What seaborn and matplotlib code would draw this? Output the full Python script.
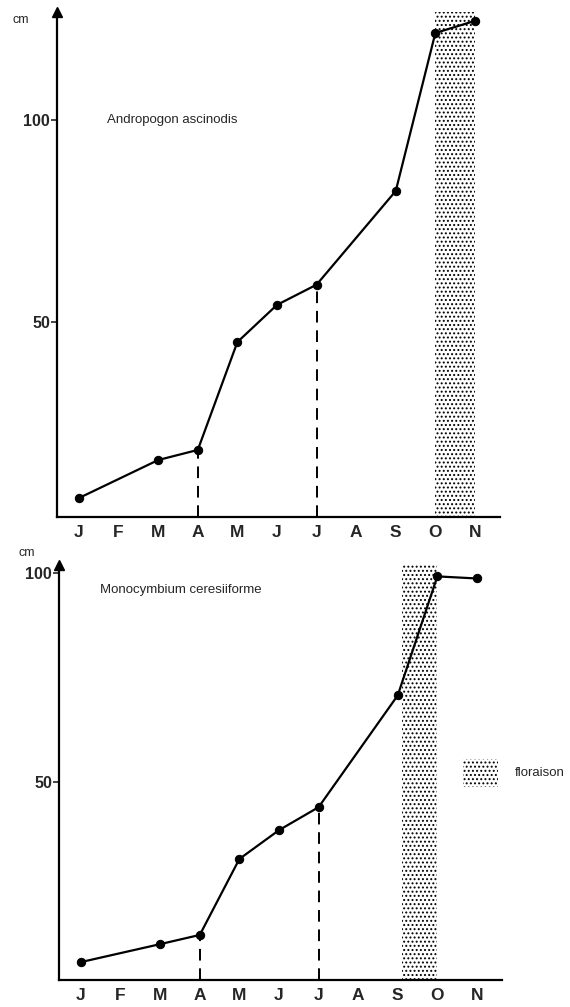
import numpy as np, pandas as pd
import seaborn as sns
import matplotlib.pyplot as plt
from matplotlib.patches import Rectangle

months = ['J', 'F', 'M', 'A', 'M', 'J', 'J', 'A', 'S', 'O', 'N']

# mesures (indice du mois, hauteur en cm)
andro_x = [0, 2, 3, 4, 5, 6, 8, 9, 10]
andro_y = [6.4, 15.8, 18.3, 45, 54.2, 59.2, 82.4, 121.5, 124.5]
mono_x = [0, 2, 3, 4, 5, 6, 8, 9, 10]
mono_y = [6.9, 11.2, 13.4, 31.6, 38.5, 44, 70.8, 99.3, 98.8]

andro_flower = (9, 10)
mono_flower = (8.1, 9.0)
dashed_months = [3, 6]

sns.set_style('white')
plt.rcParams['font.family'] = ['Liberation Sans', 'DejaVu Sans']
plt.rcParams['hatch.linewidth'] = 0.9

W, H = 570, 1007
fig = plt.figure(figsize=(5.7, 10.07), dpi=100)
ax1 = fig.add_axes([0.100, 0.4866, 0.777, 0.5015])
ax2 = fig.add_axes([0.1035, 0.0268, 0.777, 0.412])


def panel(ax, xs, ys, flower, name, name_xy, ylim, cm_px):
    ax.axvspan(flower[0], flower[1], facecolor='white', edgecolor='black',
               hatch='....', linewidth=0, zorder=1)
    df = pd.DataFrame({'mois': xs, 'cm': ys})
    sns.lineplot(data=df, x='mois', y='cm', ax=ax, color='black', lw=1.6,
                 marker='o', markersize=6, markeredgecolor='black', zorder=3)
    for m in dashed_months:
        v = ys[xs.index(m)]
        ax.vlines(m, ylim[0], v, colors='black', linestyles=(0, (6, 4)), lw=1.4, zorder=2)
    ax.set_xlim(-0.556, 10.63)
    ax.set_ylim(*ylim)
    ax.set_xticks(range(len(months)))
    ax.set_xticklabels(months, fontweight='bold', fontsize=12.5)
    ax.set_yticks([50, 100])
    ax.set_yticklabels(['50', '100'], fontweight='bold', fontsize=11.5)
    ax.tick_params(axis='x', length=0, pad=6)
    ax.tick_params(axis='y', length=4, width=1.2, direction='out', left=True, pad=1)
    ax.set_xlabel('')
    ax.set_ylabel('')
    for s in ['top', 'right']:
        ax.spines[s].set_visible(False)
    for s in ['left', 'bottom']:
        ax.spines[s].set_linewidth(1.6)
        ax.spines[s].set_color('black')
    ax.plot(0, 1, '^', color='black', markersize=7, transform=ax.transAxes, clip_on=False)
    fig.text(cm_px[0] / W, 1 - cm_px[1] / H, 'cm', ha='center', va='center', fontsize=9)
    ax.text(name_xy[0], name_xy[1], name, ha='left', va='center', fontsize=9.5)


panel(ax1, andro_x, andro_y, andro_flower, 'Andropogon ascinodis', (0.7, 100), (1.7, 126.7), (21, 20))
panel(ax2, mono_x, mono_y, mono_flower, 'Monocymbium ceresiiforme', (0.48, 96), (2.6, 102.0), (27, 553))

# légende floraison
ax2.add_patch(Rectangle((0.913, 0.465), 0.079, 0.068, transform=ax2.transAxes,
                        facecolor='white', edgecolor='black', hatch='....',
                        linewidth=0, clip_on=False))
ax2.text(1.03, 0.5, 'floraison', transform=ax2.transAxes, ha='left', va='center', fontsize=9.5)

fig.savefig('out.png', dpi=100, facecolor='white')
